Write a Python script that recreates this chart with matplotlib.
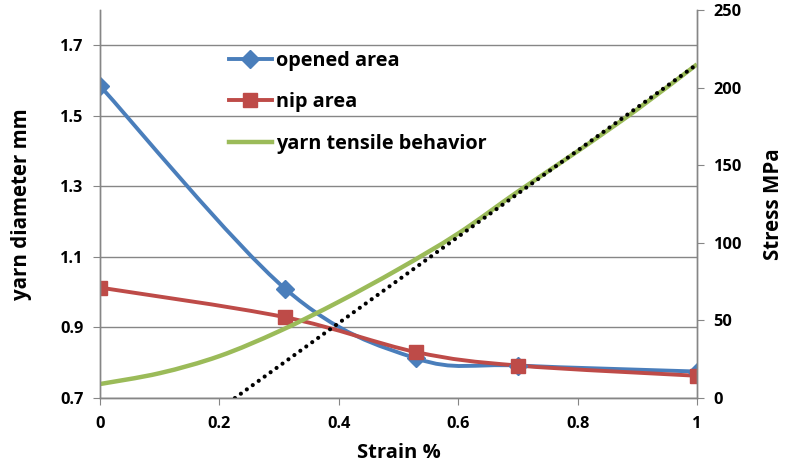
import matplotlib
matplotlib.use("Agg")
import matplotlib.pyplot as plt
import numpy as np
from matplotlib.path import Path
from matplotlib.patches import PathPatch
from matplotlib.lines import Line2D

# strain values (%)
strain_points = [0.0, 0.31, 0.53, 0.70, 1.0]
opened_area = [1.585, 1.01, 0.812, 0.792, 0.775]
nip_area = [1.013, 0.929, 0.830, 0.792, 0.763]

# tensile curve (stress MPa)
tensile_strain = [0.0, 0.1, 0.2, 0.3, 0.4, 0.5, 0.6, 0.7, 0.8, 0.9, 1.0]
tensile_stress = [9, 16, 27, 43, 62, 83, 106, 133, 159, 186, 215]

# linear trend of tensile curve
trend_strain = [0.226, 1.0]
trend_stress = [0, 215]

blue = '#4A7EBB'
red = '#BE4B48'
green = '#9BBB59'
gray = '#868686'

plt.rcParams['font.family'] = ['Open Sans', 'DejaVu Sans']
plt.rcParams['font.weight'] = 'bold'


def smooth_path(xs, ys):
    # excel-like smoothed line (catmull-rom as bezier)
    p = np.column_stack([xs, ys])
    ext = np.vstack([p[0], p, p[-1]])
    verts = [p[0]]
    codes = [Path.MOVETO]
    for i in range(len(p) - 1):
        p0, p1, p2, p3 = ext[i], ext[i + 1], ext[i + 2], ext[i + 3]
        c1 = p1 + (p2 - p0) / 6
        c2 = p2 - (p3 - p1) / 6
        verts += [c1, c2, p2]
        codes += [Path.CURVE4] * 3
    return Path(verts, codes)


fig = plt.figure(figsize=(7.91, 4.66), dpi=100)
ax = fig.add_axes([100 / 791, 1 - 398 / 466, 597 / 791, 388 / 466])
ax2 = ax.twinx()

ax.set_xlim(0, 1)
ax.set_ylim(0.7, 1.8)
ax.set_yticks([0.7, 0.9, 1.1, 1.3, 1.5, 1.7])
ax.set_xticks([0, 0.2, 0.4, 0.6, 0.8, 1])
ax.set_xticklabels(['0', '0.2', '0.4', '0.6', '0.8', '1'])
ax.yaxis.grid(True, color=gray, linewidth=1)
ax.set_axisbelow(True)

ax2.set_ylim(0, 250)
ax2.set_yticks([0, 50, 100, 150, 200, 250])

for a in (ax, ax2):
    for s in a.spines.values():
        s.set_color(gray)
        s.set_linewidth(1)
    a.spines['top'].set_visible(False)
    a.tick_params(colors='black', labelsize=11.8, length=5, color=gray)
ax.tick_params(axis='x', pad=8)
ax.tick_params(axis='y', pad=7)
ax2.tick_params(axis='y', pad=7)

# curves on the left axis
ax.add_patch(PathPatch(smooth_path(strain_points, opened_area), fill=False,
                       edgecolor=blue, linewidth=2.8, capstyle='round'))
ax.plot(strain_points, opened_area, linestyle='none', marker='D',
        markersize=9.5, color=blue)
ax.add_patch(PathPatch(smooth_path(strain_points, nip_area), fill=False,
                       edgecolor=red, linewidth=2.8, capstyle='round'))
ax.plot(strain_points, nip_area, linestyle='none', marker='s',
        markersize=10.5, color=red)

# tensile behaviour on the right axis
ax2.add_patch(PathPatch(smooth_path(tensile_strain, tensile_stress), fill=False,
                        edgecolor=green, linewidth=3.2, capstyle='butt'))
ax2.plot(trend_strain, trend_stress, color='black', linewidth=3.0,
         linestyle=(0, (0.01, 1.75)), dash_capstyle='round')
ax2.set_xlim(0, 1)

ax.set_xlabel('Strain %', fontsize=14.5, fontweight='bold', labelpad=8)
ax.set_ylabel('yarn diameter mm', fontsize=14.8, fontweight='bold', labelpad=20)
ax2.set_ylabel('Stress MPa', fontsize=14.8, fontweight='bold', labelpad=15)

handles = [
    Line2D([], [], color=blue, linewidth=2.8, marker='D', markersize=9.5),
    Line2D([], [], color=red, linewidth=2.8, marker='s', markersize=10.5),
    Line2D([], [], color=green, linewidth=3.2),
]
labels = ['opened area', 'nip area', 'yarn tensile behavior']
leg = ax2.legend(handles, labels, loc='upper left',
                 bbox_to_anchor=(229 / 791, 1 - 51 / 466),
                 bbox_transform=fig.transFigure, frameon=False,
                 prop={'size': 14.3, 'weight': 'bold'}, handlelength=2.15,
                 handletextpad=0.2, labelspacing=1.08, borderpad=0,
                 borderaxespad=0)

fig.savefig('out.png', dpi=100)
